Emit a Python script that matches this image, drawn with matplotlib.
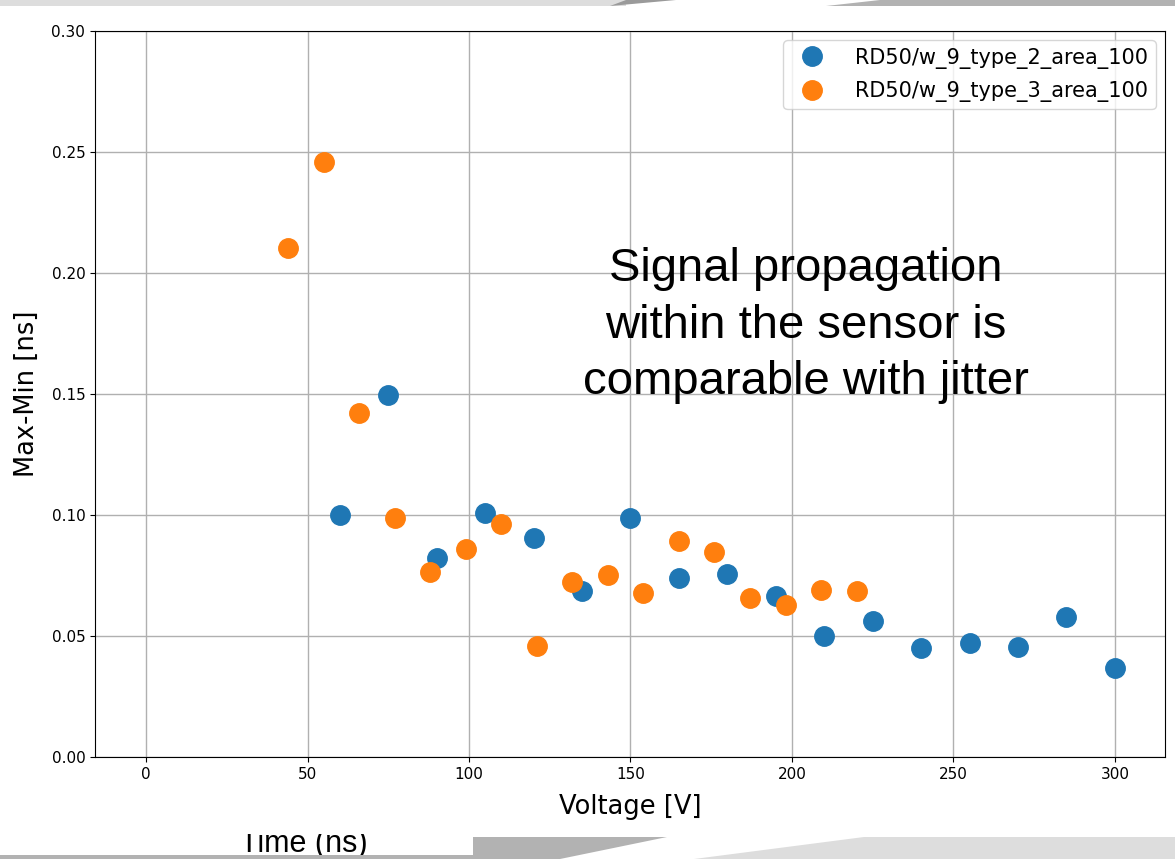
import matplotlib
matplotlib.use("Agg")
import matplotlib.pyplot as plt
from matplotlib.patches import Polygon, Rectangle

# type 2 sensor
volt_t2 = [60, 75, 90, 105, 120, 135, 150, 165, 180, 195, 210, 225, 240, 255, 270, 285, 300]
maxmin_t2 = [0.100, 0.1496, 0.0822, 0.1008, 0.0905, 0.0686, 0.0988, 0.0739, 0.0756,
             0.0665, 0.0500, 0.0562, 0.0450, 0.0471, 0.0454, 0.0578, 0.0368]

# type 3 sensor
volt_t3 = [44, 55, 66, 77, 88, 99, 110, 121, 132, 143, 154, 165, 176, 187, 198, 209, 220]
maxmin_t3 = [0.2105, 0.2457, 0.1421, 0.0988, 0.0764, 0.0859, 0.0962, 0.0458, 0.0723,
             0.0752, 0.0677, 0.0892, 0.0847, 0.0657, 0.0628, 0.0690, 0.0686]

labels = ["RD50/w_9_type_2_area_100", "RD50/w_9_type_3_area_100"]
note = "Signal propagation\nwithin the sensor is\ncomparable with jitter"

W, H = 1175, 859
fig = plt.figure(figsize=(W / 100, H / 100), dpi=100)
ax = fig.add_axes([95 / W, 1 - 757 / H, (1165 - 95) / W, (757 - 31) / H])

ax.plot(volt_t2, maxmin_t2, 'o', ms=14, color='#1f77b4', label=labels[0])
ax.plot(volt_t3, maxmin_t3, 'o', ms=14, color='#ff7f0e', label=labels[1])

ax.set_xlim(-15.8, 315.5)
ax.set_ylim(0, 0.3)
ax.set_xticks([0, 50, 100, 150, 200, 250, 300])
ax.set_yticks([0.0, 0.05, 0.10, 0.15, 0.20, 0.25, 0.30])
ax.tick_params(labelsize=11)
ax.set_xlabel("Voltage [V]", fontsize=18.5, labelpad=9)
ax.set_ylabel("Max-Min [ns]", fontsize=18.5, labelpad=8)
ax.grid(color='#b0b0b0', linewidth=1)
ax.legend(loc="upper right", fontsize=15, borderpad=0.35, labelspacing=0.6,
          handletextpad=1.1, borderaxespad=0.45)

ax.text(0.664, 0.594, note, transform=ax.transAxes, ha='center', va='center',
        fontsize=34, family='Liberation Sans', linespacing=1.37)

# slide decorations around the picture
def px(x, y):
    return (x / W, 1 - y / H)

deco = [
    ([(0, 0), (626, 0), (626, 6), (0, 6)], '#dddddd'),
    ([(626, 0), (676, 0), (610, 6)], '#9a9a9a'),
    ([(880, 0), (1175, 0), (1175, 6), (826, 6)], '#b2b2b2'),
    ([(0, 855), (560, 855), (560, 859), (0, 859)], '#b2b2b2'),
    ([(473, 837), (667, 837), (560, 859), (473, 859)], '#b2b2b2'),
    ([(864, 837), (1175, 837), (1175, 859), (694, 859)], '#dddddd'),
]
for pts, c in deco:
    fig.patches.append(Polygon([px(*p) for p in pts], closed=True, transform=fig.transFigure,
                               facecolor=c, edgecolor='none', zorder=5))

fig.text(240 / W, 1 - 852 / H, "Time (ns)", fontsize=22, family='Liberation Sans',
         va='baseline', ha='left', zorder=4)
fig.patches.append(Rectangle(px(200, 834), 260 / W, 30 / H, transform=fig.transFigure,
                             facecolor='white', edgecolor='none', zorder=4.5))

plt.savefig("out.png", dpi=100)
